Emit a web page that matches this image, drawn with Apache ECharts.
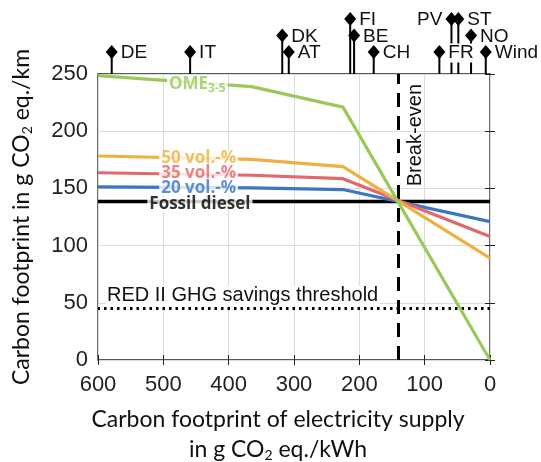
<!DOCTYPE html>
<html><head><meta charset="utf-8">
<script src="https://cdn.jsdelivr.net/npm/echarts@6/dist/echarts.min.js"></script>
<style>html,body{margin:0;padding:0;background:#fff}#c{width:541px;height:462px}</style>
</head><body><div id="c"></div>
<script>
// ---- data ----
const elecX = [600, 365, 225, 0];
const ome35 = [248.5, 239, 221, 0];
const vol50 = [178.3, 175.3, 169, 89];
const vol35 = [163.7, 161.5, 158.5, 108];
const vol20 = [151.3, 150.5, 149, 121];
const fossilDiesel = 138.5;
const redIIThreshold = 45;
const breakEven = 141;
const countries = ['DE','IT','DK','AT','FI','BE','CH','FR','PV','ST','NO','Wind'];
const countryX  = [579, 459, 318, 308, 214, 208, 178, 77.5, 59, 48.5, 29, 6.5];
const countryRow = [1, 1, 2, 1, 3, 2, 1, 1, 3, 3, 2, 1];
const labelLeft = ['PV'];
const seriesNames = ['OME{s|3-5}', '50 vol.-%', '35 vol.-%', '20 vol.-%', 'Fossil diesel'];
const seriesLabelX = [448, 446, 446, 446, 444];
const seriesLabelY = [241.5, 176.5, 163.5, 150.5, 135.8];

const colors = ['#9BC85A', '#EDB140', '#E0686E', '#3A76C4', '#000000'];
const pair = (ys) => elecX.map((x, i) => [x, ys[i]]);
const FONT = 'Liberation Sans';
const TFONT = 'Lato';
const LFONT = 'Open Sans';
const subRich = {
  n: {fontSize: 23, fontFamily: TFONT, color: '#111'},
  s: {fontSize: 14, fontFamily: TFONT, color: '#111', padding: [10, 0, 0, 0]}
};

const chart = echarts.init(document.getElementById('c'), null, {renderer: 'canvas'});
const lw = 3.2;
chart.setOption({
  animation: false,
  backgroundColor: '#fff',
  grid: [
    {left: 98, right: 51, top: 74, bottom: 102, show: true, borderColor: '#222', borderWidth: 1.3,
     containLabel: false, outerBoundsMode: 'none'},
    {left: 98, right: 51, top: 0, height: 74, containLabel: false, outerBoundsMode: 'none'}
  ],
  xAxis: [
    {gridIndex: 0, type: 'value', min: 0, max: 600, interval: 100, inverse: true,
     axisLine: {show: false}, axisTick: {show: true, inside: true, length: 5, lineStyle: {color: '#222'}},
     splitLine: {show: true, lineStyle: {color: '#dcdcdc', width: 1}},
     axisLabel: {fontFamily: FONT, fontSize: 22, color: '#222', margin: 14},
     name: '{n|Carbon footprint of electricity supply}\n{n|in g CO}{s|2}{n| eq./kWh}',
     nameLocation: 'middle', nameGap: 45,
     nameTextStyle: {lineHeight: 30, rich: subRich, padding: [0, 32, 0, 0]}},
    {gridIndex: 0, type: 'value', min: 0, max: 600, interval: 100, inverse: true, position: 'top',
     axisLine: {show: false}, axisTick: {show: true, inside: true, length: 5, lineStyle: {color: '#222'}},
     splitLine: {show: false}, axisLabel: {show: false}},
    {gridIndex: 1, type: 'value', min: 0, max: 600, inverse: true, show: false}
  ],
  yAxis: [
    {gridIndex: 0, type: 'value', min: 0, max: 250, interval: 50,
     axisLine: {show: false}, axisTick: {show: true, inside: true, length: 5, lineStyle: {color: '#222'}},
     splitLine: {show: true, lineStyle: {color: '#dcdcdc', width: 1}},
     axisLabel: {fontFamily: FONT, fontSize: 22, color: '#222', margin: 10},
     name: '{n|Carbon footprint in g CO}{s|2}{n| eq./km}',
     nameLocation: 'middle', nameGap: 64, nameRotate: 90,
     nameTextStyle: {rich: subRich}},
    {gridIndex: 0, type: 'value', min: 0, max: 250, interval: 50, position: 'right',
     axisLine: {show: false}, axisTick: {show: true, inside: true, length: 5, lineStyle: {color: '#222'}},
     splitLine: {show: false}, axisLabel: {show: false}},
    {gridIndex: 1, type: 'value', min: -0.333, max: 4.15, show: false}
  ],
  series: [
    {type: 'line', name: 'Fossil diesel', xAxisIndex: 0, yAxisIndex: 0, symbol: 'none',
     data: [[600, fossilDiesel], [0, fossilDiesel]], lineStyle: {color: '#000', width: 3.5}, z: 3,
     markLine: {silent: true, symbol: 'none',
       data: [
         {xAxis: breakEven, lineStyle: {color: '#000', width: 3, type: [14, 9]},
          label: {show: true, formatter: 'Break-even', position: 'insideEndBottom', distance: [10, 8],
                  fontFamily: FONT, fontSize: 20, color: '#111'}},
         {yAxis: redIIThreshold, lineStyle: {color: '#000', width: 3, type: [2.5, 4]},
          label: {show: true, formatter: 'RED II GHG savings threshold', position: 'insideEndTop', distance: [8, 3],
                  fontFamily: FONT, fontSize: 20, color: '#111', backgroundColor: '#fff', padding: [0, 1]}}
       ]}},
    {type: 'line', name: '20 vol.-%', symbol: 'none', data: pair(vol20), lineStyle: {color: colors[3], width: lw}, z: 4},
    {type: 'line', name: '35 vol.-%', symbol: 'none', data: pair(vol35), lineStyle: {color: colors[2], width: lw}, z: 4},
    {type: 'line', name: '50 vol.-%', symbol: 'none', data: pair(vol50), lineStyle: {color: colors[1], width: lw}, z: 4},
    {type: 'line', name: 'OME3-5', symbol: 'none', data: pair(ome35), lineStyle: {color: colors[0], width: lw}, z: 5},
    {type: 'scatter', name: 'labels', z: 20, symbolSize: 1, itemStyle: {color: 'rgba(0,0,0,0)'},
     data: seriesNames.map((n, i) => ({
       value: [seriesLabelX[i], seriesLabelY[i]],
       label: {show: true, position: 'inside', formatter: n, color: colors[i], fontFamily: LFONT,
               fontWeight: 'bold', fontSize: 17, lineHeight: 15, backgroundColor: '#fff', padding: [0, 2, 0, 2],
               rich: {s: {fontSize: 12, fontWeight: 'bold', fontFamily: LFONT, color: colors[i], lineHeight: 15, padding: [9, 0, 0, 0]}}}
     }))},
    {type: 'custom', name: 'countries', xAxisIndex: 2, yAxisIndex: 2, clip: false,
     data: countries.map((c, i) => [countryX[i], countryRow[i]]),
     renderItem: function (params, api) {
       const p = api.coord([api.value(0), api.value(1)]);
       const base = params.coordSys.y + params.coordSys.height;
       const name = countries[params.dataIndex];
       const left = labelLeft.indexOf(name) >= 0;
       return {type: 'group', children: [
         {type: 'line', z2: 1, shape: {x1: p[0], y1: p[1], x2: p[0], y2: base}, style: {stroke: '#000', lineWidth: 2}},
         {type: 'polygon', z2: 3, shape: {points: [[p[0], p[1] - 7], [p[0] + 6, p[1]], [p[0], p[1] + 7], [p[0] - 6, p[1]]]},
          style: {fill: '#000'}},
         {type: 'text', z2: 2, x: p[0] + (left ? -8 : 8), y: p[1] + 1,
          style: {text: name, align: left ? 'right' : 'left', verticalAlign: 'middle',
                  fontFamily: FONT, fontSize: 19, fill: '#111', backgroundColor: '#fff', padding: [0, 1]}}
       ]};
     }}
  ]
});
</script></body></html>
